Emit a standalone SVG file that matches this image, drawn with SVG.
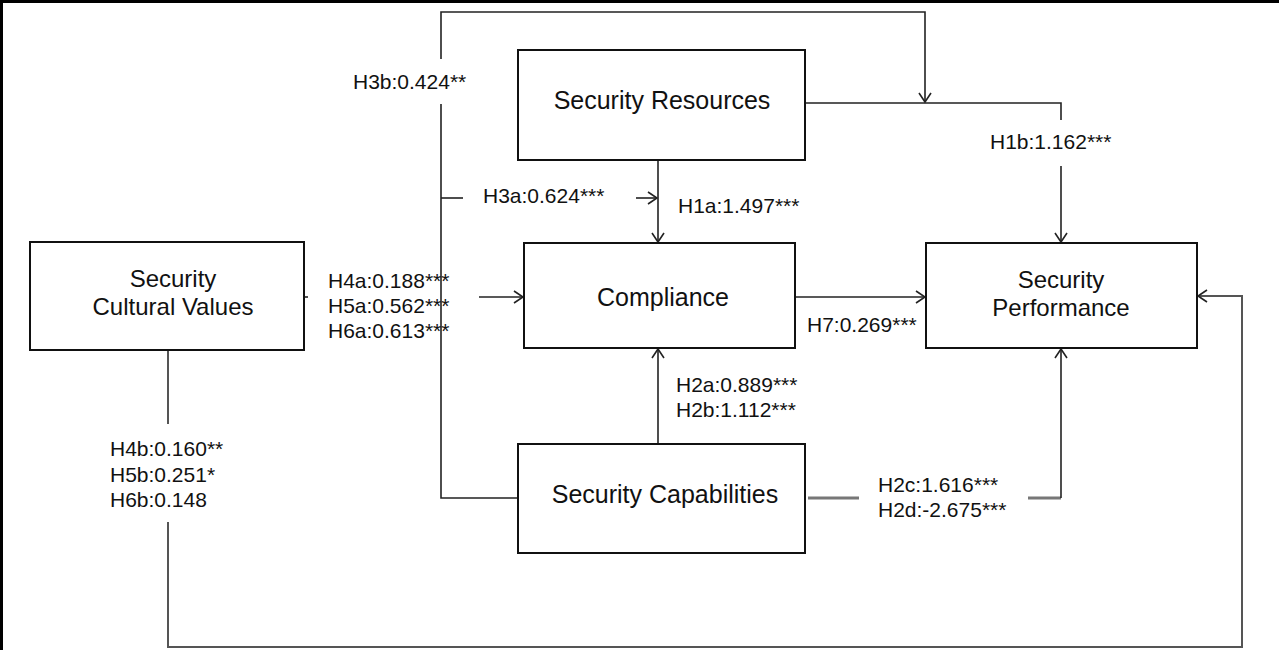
<svg xmlns="http://www.w3.org/2000/svg" width="1279" height="650" viewBox="0 0 1279 650">
<defs>
<marker id="arr" markerUnits="userSpaceOnUse" markerWidth="14" markerHeight="14" viewBox="-11 -7 14 14" refX="0" refY="0" orient="auto">
<path d="M-9,-6 L0,0 L-9,6" fill="none" stroke="#222" stroke-width="1.6"/>
</marker>
<style>
.box{fill:#fff;stroke:#111;stroke-width:2}
.nt{font-family:"Liberation Sans",Arial,sans-serif;font-size:25px;fill:#111;text-anchor:middle}
.nt2{font-family:"Liberation Sans",Arial,sans-serif;font-size:24px;fill:#111;text-anchor:middle}
.lb{font-family:"Liberation Sans",Arial,sans-serif;font-size:21px;fill:#111}
.ln{fill:none;stroke:#222;stroke-width:1.6}
.lg{fill:none;stroke:#555;stroke-width:2}
.gr{fill:none;stroke:#777;stroke-width:3}
</style>
</defs>
<rect width="1279" height="650" fill="#fff"/>
<path d="M0,1.5 H1279 M1.5,0 V650" stroke="#000" stroke-width="3" fill="none"/>

<g id="connectors">
<path class="ln" d="M518,498 H441 V104"/>
<path class="ln" d="M441,59 V12 H925 V102" marker-end="url(#arr)"/>
<path class="ln" d="M441,198 H463"/>
<path class="ln" d="M636,198 H657" marker-end="url(#arr)"/>
<path class="ln" d="M658,160 V242" marker-end="url(#arr)"/>
<path class="ln" d="M805,103 H1061 V120"/>
<path class="ln" d="M1061,166 V242" marker-end="url(#arr)"/>
<path class="ln" d="M304,297 H308"/>
<path class="ln" d="M479,297 H523" marker-end="url(#arr)"/>
<path class="ln" d="M795,297 H925" marker-end="url(#arr)"/>
<path class="ln" d="M658,444 V349" marker-end="url(#arr)"/>
<path class="gr" d="M808,498 H859"/>
<path class="gr" d="M1028,498 H1061"/>
<path class="ln" d="M1061,498 V349" marker-end="url(#arr)"/>
<path class="lg" d="M168,350 V424"/>
<path class="lg" d="M168,522 V647 H1242 V296 H1198" marker-end="url(#arr)"/>
</g>

<g id="labels">
<text class="lb" x="353" y="89">H3b:0.424**</text>
<text class="lb" x="483" y="203">H3a:0.624***</text>
<text class="lb" x="678" y="213">H1a:1.497***</text>
<text class="lb" x="990" y="149">H1b:1.162***</text>
<text class="lb" x="328" y="288">H4a:0.188***</text>
<text class="lb" x="328" y="313">H5a:0.562***</text>
<text class="lb" x="328" y="338">H6a:0.613***</text>
<text class="lb" x="807" y="332">H7:0.269***</text>
<text class="lb" x="676" y="392">H2a:0.889***</text>
<text class="lb" x="676" y="417">H2b:1.112***</text>
<text class="lb" x="878" y="492">H2c:1.616***</text>
<text class="lb" x="878" y="517">H2d:-2.675***</text>
<text class="lb" x="110" y="456">H4b:0.160**</text>
<text class="lb" x="110" y="482">H5b:0.251*</text>
<text class="lb" x="110" y="507">H6b:0.148</text>
</g>

<g id="security-resources">
<rect class="box" x="518" y="50" width="287" height="110"/>
<text class="nt" x="662" y="109">Security Resources</text>
</g>
<g id="compliance">
<rect class="box" x="524" y="243" width="271" height="105"/>
<text class="nt" x="663" y="306">Compliance</text>
</g>
<g id="security-capabilities">
<rect class="box" x="518" y="444" width="287" height="109"/>
<text class="nt" x="665" y="503">Security Capabilities</text>
</g>
<g id="security-cultural-values">
<rect class="box" x="30" y="242" width="274" height="108"/>
<text class="nt2" x="173" y="287">Security</text>
<text class="nt2" x="173" y="315">Cultural Values</text>
</g>
<g id="security-performance">
<rect class="box" x="926" y="243" width="271" height="105"/>
<text class="nt2" x="1061" y="288">Security</text>
<text class="nt2" x="1061" y="316">Performance</text>
</g>
</svg>
